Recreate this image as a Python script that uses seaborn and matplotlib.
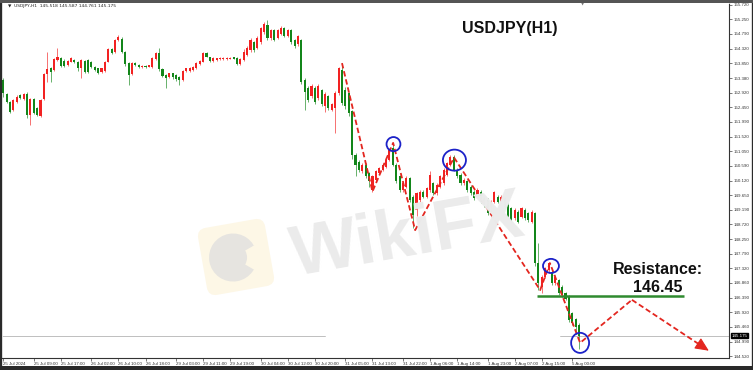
import numpy as np
import pandas as pd
import matplotlib
matplotlib.use("Agg")
import matplotlib.pyplot as plt
import matplotlib.transforms as mtransforms
from matplotlib.patches import Ellipse, Rectangle, FancyBboxPatch, Circle, Wedge
import seaborn as sns

# ---------------- data ----------------
opens = [153.32,152.88,152.63,152.37,152.63,152.84,152.71,152.88,152.21,152.71,
         152.42,152.18,152.71,153.51,153.69,153.64,153.96,154.01,153.94,153.80,
         153.91,153.96,153.91,153.69,153.93,153.96,153.91,153.75,153.69,153.59,
         153.62,153.91,154.30,154.22,154.60,154.62,154.22,153.85,153.51,153.87,
         153.80,153.73,153.77,153.75,153.75,153.99,154.17,153.66,153.48,153.41,
         153.53,153.48,153.41,153.32,153.62,153.62,153.64,153.69,153.83,153.91,
         154.17,154.04,153.94,153.96,153.98,153.99,153.99,154.00,154.04,154.01,
         153.83,153.96,
         154.12,154.28,154.53,154.34,154.53,154.85,155.07,154.66,154.91,154.66,
         154.79,154.98,154.72,154.91,154.60,154.47,154.60,153.32,153.07,152.81,
         153.07,152.75,153.00,152.49,152.81,152.37,152.43,152.91,
         153.64,153.01,152.90,152.32,150.94,150.70,150.41,150.62,150.35,149.82,
         150.14,150.35,150.46,150.56,150.78,151.15,150.62,150.25,149.82,149.93,
         150.19,149.61,149.18,149.50,149.77,149.61,149.82,150.03,149.71,149.93,
         150.03,150.30,150.62,150.86,150.46,150.30,150.03,150.09,149.93,149.77,
         149.61,
         149.77,149.56,149.50,149.24,149.45,149.61,149.45,149.55,149.34,149.24,
         148.92,149.13,148.97,149.19,149.08,148.81,149.08,147.48,146.74,147.06,
         147.27,147.22,146.85,146.95,146.74,146.53,146.42,145.89,145.70,145.518]
highs = [153.37,152.92,152.66,152.72,152.83,152.88,152.92,152.95,152.74,152.75,
         152.45,152.72,153.55,154.22,153.73,154.01,154.33,154.04,153.98,153.96,
         154.06,153.99,153.94,154.00,153.96,154.00,153.94,153.78,153.72,153.72,
         153.94,154.33,154.33,154.63,154.76,154.70,154.25,153.88,153.90,153.90,
         153.83,153.80,153.79,153.81,154.04,154.20,154.33,153.69,153.51,153.56,
         153.56,153.51,153.44,153.65,153.72,153.73,153.78,153.90,153.97,154.20,
         154.20,154.07,154.04,154.03,154.04,154.04,154.05,154.05,154.06,154.04,
         154.01,154.30,
         154.40,154.66,154.58,154.72,155.02,155.18,155.23,154.96,154.96,154.95,
         155.04,155.02,154.95,154.95,154.64,154.76,154.64,153.38,153.12,153.18,
         153.12,153.18,153.05,152.94,152.86,152.60,152.96,153.75,
         153.86,153.10,152.95,152.38,151.00,150.76,150.68,150.67,150.40,150.30,
         150.46,150.56,150.67,150.83,151.15,151.31,150.67,150.30,150.09,150.25,
         150.24,149.66,149.76,149.82,149.82,149.93,150.41,150.08,150.03,150.30,
         150.51,150.72,150.93,150.93,150.51,150.35,150.19,150.14,149.98,149.82,
         149.87,
         149.82,149.61,149.55,149.50,149.80,149.66,149.66,149.60,149.39,149.29,
         149.24,149.18,149.29,149.24,149.13,149.18,149.13,148.12,147.11,147.37,
         147.53,147.27,147.11,147.00,146.79,146.58,146.47,145.94,145.75,145.587]
lows = [152.79,152.58,152.26,152.33,152.60,152.71,152.68,152.10,151.89,152.24,
        152.17,152.15,152.68,153.27,153.27,153.60,153.93,153.74,153.73,153.77,
        153.88,153.87,153.62,153.38,153.55,153.53,153.71,153.60,153.51,153.55,
        153.59,153.88,154.15,154.19,154.57,154.19,153.78,153.16,153.48,153.77,
        153.70,153.71,153.71,153.73,153.72,153.96,153.62,153.41,153.06,153.38,
        153.36,153.30,153.16,153.29,153.58,153.59,153.60,153.66,153.80,153.88,
        154.04,153.91,153.91,153.94,153.96,153.97,153.97,153.98,153.98,153.80,
        153.80,153.93,
        154.08,154.22,154.22,154.30,154.48,154.80,154.60,154.60,154.55,154.62,
        154.75,154.68,154.68,154.48,154.35,154.42,153.18,152.37,152.62,152.76,
        152.56,152.70,152.50,152.30,152.38,152.32,151.63,152.86,
        152.54,152.40,152.16,150.80,150.25,150.40,150.36,150.20,149.93,149.77,
        150.09,150.30,150.41,150.51,150.73,150.57,150.03,149.77,149.77,149.88,
        149.45,148.61,149.00,149.45,149.56,149.56,149.77,149.66,149.66,149.88,
        149.98,150.25,150.57,150.41,150.20,149.98,149.98,149.77,149.66,149.51,
        149.56,
        149.40,149.29,149.03,149.00,149.40,149.40,149.40,149.24,148.92,148.80,
        148.87,148.76,148.92,148.87,148.81,148.76,147.40,146.63,146.53,147.01,
        147.22,146.80,146.80,146.48,146.42,146.31,145.63,145.52,145.30,144.761]
closes = [152.90,152.63,152.31,152.69,152.79,152.74,152.87,152.21,152.71,152.28,
          152.21,152.69,153.51,153.66,153.59,153.98,154.04,153.77,153.77,153.93,
          154.03,153.90,153.69,153.96,153.59,153.59,153.75,153.64,153.56,153.69,
          153.91,154.30,154.19,154.60,154.68,154.22,153.83,153.48,153.87,153.80,
          153.73,153.78,153.73,153.79,154.01,154.17,153.66,153.45,153.38,153.53,
          153.41,153.34,153.32,153.62,153.69,153.69,153.75,153.87,153.94,154.17,
          154.07,153.94,154.01,154.01,154.02,154.02,154.03,154.03,154.00,153.83,
          153.98,154.22,
          154.34,154.60,154.28,154.66,154.98,155.11,154.66,154.91,154.60,154.91,
          154.98,154.72,154.91,154.53,154.40,154.72,153.26,152.94,152.69,153.13,
          152.62,153.13,152.56,152.88,152.43,152.56,152.91,153.70,
          152.59,152.48,152.26,150.94,150.62,150.46,150.62,150.25,150.09,150.25,
          150.41,150.51,150.62,150.78,151.10,150.62,150.09,149.82,150.03,150.19,
          149.50,149.03,149.71,149.77,149.61,149.88,150.30,149.71,149.98,150.25,
          150.46,150.67,150.88,150.46,150.25,150.03,150.14,149.82,149.71,149.56,
          149.82,
          149.45,149.34,149.08,149.45,149.77,149.45,149.61,149.29,148.97,148.86,
          149.19,148.81,149.24,148.92,148.86,149.13,147.48,146.85,147.06,147.32,
          147.48,146.85,147.06,146.53,146.47,146.36,145.68,145.57,145.45,145.175]

tick_bars = [0, 9, 17, 26, 34, 42, 51, 59, 67, 76, 84, 92, 101, 109, 118,
             126, 134, 143, 151, 159, 168]
tick_labels = ["25 Jul 2024", "25 Jul 09:00", "25 Jul 17:00", "26 Jul 02:00",
               "26 Jul 10:00", "26 Jul 18:00", "29 Jul 03:00", "29 Jul 11:00",
               "29 Jul 19:00", "30 Jul 04:00", "30 Jul 12:00", "30 Jul 20:00",
               "31 Jul 05:00", "31 Jul 13:00", "31 Jul 22:00", "1 Aug 06:00",
               "1 Aug 14:00", "1 Aug 23:00", "2 Aug 07:00", "2 Aug 15:00",
               "5 Aug 00:00"]
price_ticks = [155.720, 155.250, 154.790, 154.320, 153.850, 153.380, 152.920,
               152.450, 151.990, 151.520, 151.050, 150.590, 150.120, 149.650,
               149.190, 148.720, 148.250, 147.790, 147.320, 146.860, 146.390,
               145.920, 145.460, 144.990, 144.520]
last_price = 145.175
resistance = 146.45
res_from, res_to = 157.6, 201.0

zigzag_bar = [100, 109, 115.1, 121.6, 133.1, 158.5, 161.4, 170.3, 185.6, 208.3]
zigzag_price = [153.86, 149.77, 151.32, 148.54, 150.85, 146.63, 147.49,
                144.95, 146.32, 144.70]

circle_bar = [115.2, 133.2, 161.7, 170.3]
circle_price = [151.28, 150.77, 147.40, 144.95]
circle_w = [4.1, 6.8, 4.7, 5.3]
circle_h = [0.45, 0.67, 0.45, 0.64]

# ---------------- figure ----------------
sns.set_theme(style="white")
plt.rcParams['font.family'] = ['Liberation Sans', 'DejaVu Sans']

W, H = 753, 370
fig = plt.figure(figsize=(W / 100, H / 100), dpi=100, facecolor='white')
ax = fig.add_axes([2 / W, 12 / H, 727 / W, 354.7 / H])
ax.set_facecolor('white')

df = pd.DataFrame({"o": opens, "h": highs, "l": lows, "c": closes})
df["bar"] = np.arange(len(df))
up = df["c"] >= df["o"]
RED, GREEN = "#f22222", "#13861a"
col = np.where(up, RED, GREEN)

# watermark (drawn in display pixels)
def rot(cx, cy, ang):
    return mtransforms.Affine2D().rotate_deg_around(cx, H - cy, ang)

logo = FancyBboxPatch((236 - 34, H - 257 - 34), 68, 68,
                      boxstyle="round,pad=0,rounding_size=9",
                      transform=rot(236, 257, 10), facecolor="#fdf7e6",
                      edgecolor="none", zorder=0)
fig.patches.append(logo)
eagle = Circle((233, H - 257), 24, transform=rot(236, 257, 10),
               facecolor="#e6e4e0", edgecolor="none", zorder=0)
fig.patches.append(eagle)
cut = Wedge((233, H - 257), 26, -40, 20, width=12, transform=rot(236, 257, 10),
            facecolor="#fdf7e6", edgecolor="none", zorder=0)
fig.patches.append(cut)
fig.text(408 / W, 1 - 238 / H, "WikiFX", fontsize=51, fontweight="bold",
         color="#ebebeb", rotation=10, ha="center", va="center", zorder=0,
         family="Liberation Sans")

# candles
ax.vlines(df["bar"], df["l"], df["h"], colors=col, lw=0.6, alpha=0.75, zorder=2)
body_h = np.maximum((df["c"] - df["o"]).abs(), 0.025)
ax.bar(df["bar"], body_h, bottom=np.minimum(df["o"], df["c"]), width=0.62,
       color=col, linewidth=0, zorder=3)

# bid line
ax.axhline(last_price, xmin=0, xmax=0.444, color="#b4b4b4", lw=0.6, zorder=1)
ax.axhline(last_price, xmin=0.768, xmax=1, color="#b4b4b4", lw=0.6, zorder=1)

# resistance
ax.hlines(resistance, res_from, res_to, color="#2f8a2f", lw=1.8, zorder=4)

# zigzag
sns.lineplot(x=zigzag_bar[:-1], y=zigzag_price[:-1], sort=False, estimator=None,
             ax=ax, color="#e3261f", lw=1.3, linestyle=(0, (3, 1.6)), zorder=5)
dx = zigzag_bar[-1] - zigzag_bar[-2]
dy = zigzag_price[-1] - zigzag_price[-2]
ax.plot([zigzag_bar[-2], zigzag_bar[-1] - 0.12 * dx],
        [zigzag_price[-2], zigzag_price[-1] - 0.12 * dy], color="#e3261f",
        lw=1.3, linestyle=(0, (3, 1.6)), zorder=5)
ax.annotate("", xy=(zigzag_bar[-1], zigzag_price[-1]),
            xytext=(zigzag_bar[-1] - 0.14 * dx, zigzag_price[-1] - 0.14 * dy),
            arrowprops=dict(arrowstyle="-|>,head_length=0.7,head_width=0.32",
                            color="#e3261f", lw=0.8, shrinkA=0, shrinkB=0),
            zorder=6)

for b, p, w, h in zip(circle_bar, circle_price, circle_w, circle_h):
    ax.add_patch(Ellipse((b, p), w, h, fill=False, edgecolor="#1c22c8",
                         lw=1.3, zorder=6))

# texts
fig.text(509.5 / W, 1 - 29 / H, "USDJPY(H1)", fontsize=11.5, fontweight="bold",
         color="#111111", ha="center", va="center")
fig.text(658 / W, 1 - 270 / H, "Resistance:", fontsize=11.5, fontweight="bold",
         color="#111111", ha="center", va="center")
fig.text(658 / W, 1 - 287 / H, "146.45", fontsize=11.5, fontweight="bold",
         color="#111111", ha="center", va="center")
fig.text(8 / W, 1 - 6.5 / H, "\u25BC  USDJPY,H1  145.518 145.587 144.761 145.175",
         fontsize=3.2, color="#222222", ha="left", va="center",
         family=["DejaVu Sans"])
fig.text(583 / W, 1 - 5 / H, "\u25BC", fontsize=3, color="#777777",
         ha="center", va="center", family=["DejaVu Sans"])

# axes
ax.set_xlim(-0.38, 214.26)
ax.set_ylim(144.468, 155.765)
ax.yaxis.tick_right()
ax.set_yticks(price_ticks)
ax.set_yticklabels([f"{v:.3f}" for v in price_ticks], fontsize=3.2,
                   color="#333333")
ax.set_xticks(tick_bars)
ax.set_xticklabels(tick_labels, fontsize=3.2, color="#333333", ha="left")
ax.tick_params(axis="y", which="both", right=True, left=False, length=2,
               width=0.5, pad=1.5, colors="#444444", labelcolor="#333333")
ax.tick_params(axis="x", which="both", bottom=True, length=2, width=0.5,
               pad=1.2, colors="#444444", labelcolor="#333333")
for s in ["top", "left"]:
    ax.spines[s].set_visible(True)
    ax.spines[s].set_color("#ffffff")
ax.spines["right"].set_color("#333333")
ax.spines["right"].set_linewidth(0.8)
ax.spines["bottom"].set_color("#333333")
ax.spines["bottom"].set_linewidth(0.8)
ax.set_xlabel("")
ax.set_ylabel("")
ax.grid(False)

ax.text(1.003, last_price, f"{last_price:.3f}", transform=ax.get_yaxis_transform(),
        fontsize=3.2, color="white", ha="left", va="center",
        bbox=dict(facecolor="black", edgecolor="black", pad=0.4), zorder=7,
        clip_on=False)

# outer window frame
fig.patches.append(Rectangle((0, 0), 1, 1, transform=fig.transFigure, fill=False,
                             edgecolor="#2a2a2a", lw=2.4, zorder=10))
fig.patches.append(Rectangle((0, 0), 1, 4 / H, transform=fig.transFigure,
                             facecolor="#2a2a2a", edgecolor="none", zorder=10))
fig.patches.append(Rectangle((0, 1 - 3 / H), 1, 3 / H, transform=fig.transFigure,
                             facecolor="#555555", edgecolor="none", zorder=10))

fig.savefig("out.png", dpi=100, facecolor="white")
